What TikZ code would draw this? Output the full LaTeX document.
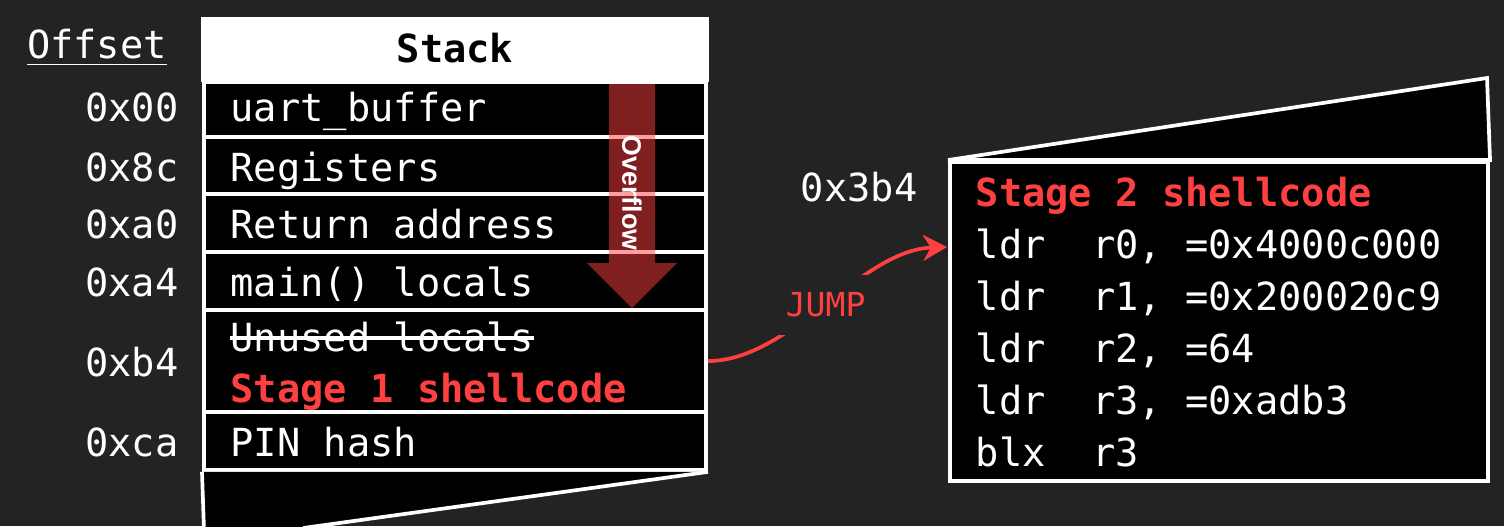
\documentclass[tikz,border=0pt]{standalone}
\usepackage{fontspec}
\setmonofont{DejaVu Sans Mono}
\newfontfamily\ovffont{Liberation Sans}
\usetikzlibrary{arrows.meta}
\definecolor{bgc}{HTML}{232323}
\definecolor{redt}{HTML}{FF4040}
\definecolor{ovfc}{HTML}{FF3E3E}
\begin{document}
\begin{tikzpicture}[x=0.01cm,y=-0.01cm,
  every node/.style={font=\ttfamily\fontsize{11}{13}\selectfont, text=white, inner sep=0pt},
  lw/.style={line width=1.05pt},
  rowbox/.style={draw=white, fill=black, lw, minimum width=5.02cm},
  txt/.style={anchor=west, text height=0.74em, text depth=0pt},
  offs/.style={anchor=east, text height=0.74em, text depth=0pt},
  redtxt/.style={txt, text=redt, font=\ttfamily\bfseries\fontsize{11}{13}\selectfont},
  jumparrow/.style={draw=redt, lw, -{Stealth[length=2.4mm,width=2.6mm]}},
  jumplabel/.style={text=redt, fill=bgc, inner xsep=4pt, inner ysep=5pt, font=\ttfamily\fontsize{9.4}{11}\selectfont}]
\useasboundingbox (0,0) rectangle (1504,526);
\clip (0,0) rectangle (1504,526);
\fill[bgc] (0,0) rectangle (1504,526);

% header
\fill[white] (201,17) rectangle (709,82);
\node[text=black, font=\ttfamily\bfseries\fontsize{11}{13}\selectfont] (stackhdr) at (455,48) {Stack};
\node[anchor=center] (offhdr) at (97,48) {\underline{Offset}};

% rows
\node[rowbox, minimum height=0.55cm] (r1) at (455,109.5) {};
\node[rowbox, minimum height=0.57cm] (r2) at (455,165.5) {};
\node[rowbox, minimum height=0.58cm] (r3) at (455,223) {};
\node[rowbox, minimum height=0.58cm] (r4) at (455,281) {};
\node[rowbox, minimum height=1.02cm] (r5) at (455,361) {};
\node[rowbox, minimum height=0.58cm] (r6) at (455,441) {};

% bottom continuation
\fill[black] (r6.south west) -- (r6.south east) -- (303,528) -- (204,528) -- cycle;
\draw[white, lw] (r6.south west) -- (204,530);
\draw[white, lw] (r6.south east) -- (303,528);

% row texts
\node[txt] (t1) at (230,108) {uart\_buffer};
\node[txt] (t2) at (230,168) {Registers};
\node[txt] (t3) at (230,225) {Return address};
\node[txt] (t4) at (230,283) {main() locals};
\node[txt] (t5) at (230,338) {Unused locals};
\draw[white, lw] (t5.west) -- (t5.east);
\node[redtxt] (t6) at (230,389) {Stage 1 shellcode};
\node[txt] (t7) at (230,443) {PIN hash};

% offsets
\node[offs] (o1) at (179,108) {0x00};
\node[offs] (o2) at (179,168) {0x8c};
\node[offs] (o3) at (179,225) {0xa0};
\node[offs] (o4) at (179,283) {0xa4};
\node[offs] (o5) at (179,363) {0xb4};
\node[offs] (o6) at (179,443) {0xca};

% overflow arrow
\fill[ovfc, opacity=0.5] (609,84) -- (655,84) -- (655,263) -- (677,263) -- (632,308) -- (587,263) -- (609,263) -- cycle;
\node[rotate=-90, font=\ovffont\bfseries\fontsize{7.6}{9}\selectfont] (ovf) at (632,193) {Overflow};

% stage 2 box
\node[draw=white, fill=black, lw, minimum width=5.38cm, minimum height=3.19cm] (sc) at (1219,321.5) {};
\filldraw[fill=black, draw=white, lw] (sc.north west) -- (1487,78) -- (sc.north east) -- cycle;
\node[offs] (o7) at (918,188) {0x3b4};
\node[redtxt] (s0) at (975,193) {Stage 2 shellcode};
\node[txt] (s1) at (975,245) {ldr~~r0,~=0x4000c000};
\node[txt] (s2) at (975,297) {ldr~~r1,~=0x200020c9};
\node[txt] (s3) at (975,349) {ldr~~r2,~=64};
\node[txt] (s4) at (975,401) {ldr~~r3,~=0xadb3};
\node[txt] (s5) at (975,453) {blx~~r3};

% jump
\coordinate (jend) at (947,247);
\draw[jumparrow] (r5.east) .. controls (790,361) and (860,250) .. (jend)
  node[pos=0.5, jumplabel] (jl) {JUMP};
\end{tikzpicture}
\end{document}
